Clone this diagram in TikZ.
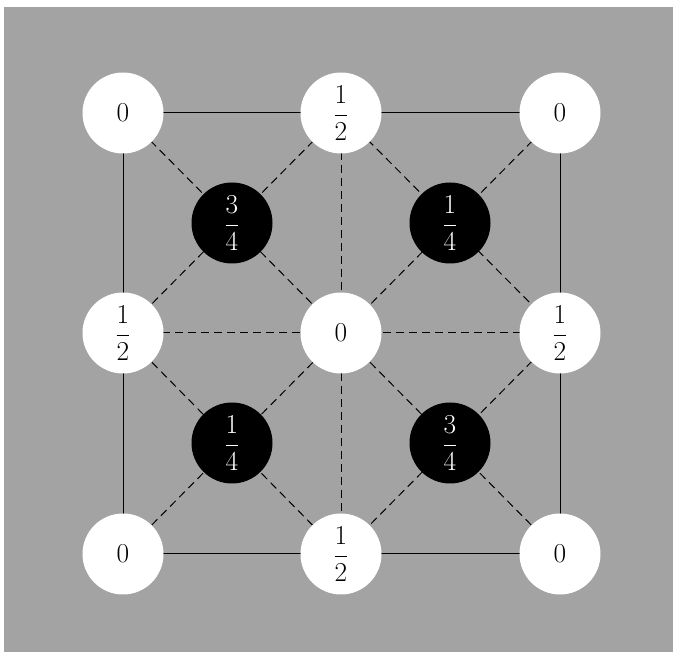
\documentclass[tikz,border=0pt]{standalone}
\usepackage{graphicx}
\newcommand{\atomlabel}[1]{\scalebox{1.1}{$\displaystyle #1$}}
\begin{document}
\begin{tikzpicture}[x=1pt,y=-1pt,
  bgfill/.style={fill=black!36},
  whiteatom/.style={circle,fill=white,minimum size=81pt,inner sep=0pt,font=\Huge},
  blackatom/.style={circle,fill=black,text=white,minimum size=81pt,inner sep=0pt,font=\Huge},
  solidedge/.style={line width=1pt},
  dashedge/.style={line width=1pt,dash pattern=on 8pt off 5pt}]
\useasboundingbox (0,0) rectangle (673,652);
\fill[bgfill] (4,7) rectangle (673,652);
% positions
\coordinate (A11) at (123,113);
\coordinate (A12) at (341,113);
\coordinate (A13) at (560,113);
\coordinate (A21) at (123,333);
\coordinate (A22) at (341,333);
\coordinate (A23) at (560,333);
\coordinate (A31) at (123,554);
\coordinate (A32) at (341,554);
\coordinate (A33) at (560,554);
% solid frame
\draw[solidedge] (A11) -- (A13) -- (A33) -- (A31) -- cycle;
% dashed lines
\draw[dashedge] (A12) -- (A32);
\draw[dashedge] (A21) -- (A23);
\draw[dashedge] (A11) -- (A33);
\draw[dashedge] (A13) -- (A31);
\draw[dashedge] (A12) -- (A21) -- (A32) -- (A23) -- cycle;
% white atoms
\node[whiteatom] (w11) at (A11) {\atomlabel{0}};
\node[whiteatom] (w12) at (A12) {\atomlabel{\frac{1}{2}}};
\node[whiteatom] (w13) at (A13) {\atomlabel{0}};
\node[whiteatom] (w21) at (A21) {\atomlabel{\frac{1}{2}}};
\node[whiteatom] (w22) at (A22) {\atomlabel{0}};
\node[whiteatom] (w23) at (A23) {\atomlabel{\frac{1}{2}}};
\node[whiteatom] (w31) at (A31) {\atomlabel{0}};
\node[whiteatom] (w32) at (A32) {\atomlabel{\frac{1}{2}}};
\node[whiteatom] (w33) at (A33) {\atomlabel{0}};
% black atoms
\node[blackatom] (b11) at (232,223) {\atomlabel{\frac{3}{4}}};
\node[blackatom] (b12) at (450,223) {\atomlabel{\frac{1}{4}}};
\node[blackatom] (b21) at (232,443) {\atomlabel{\frac{1}{4}}};
\node[blackatom] (b22) at (450,443) {\atomlabel{\frac{3}{4}}};
\end{tikzpicture}
\end{document}
